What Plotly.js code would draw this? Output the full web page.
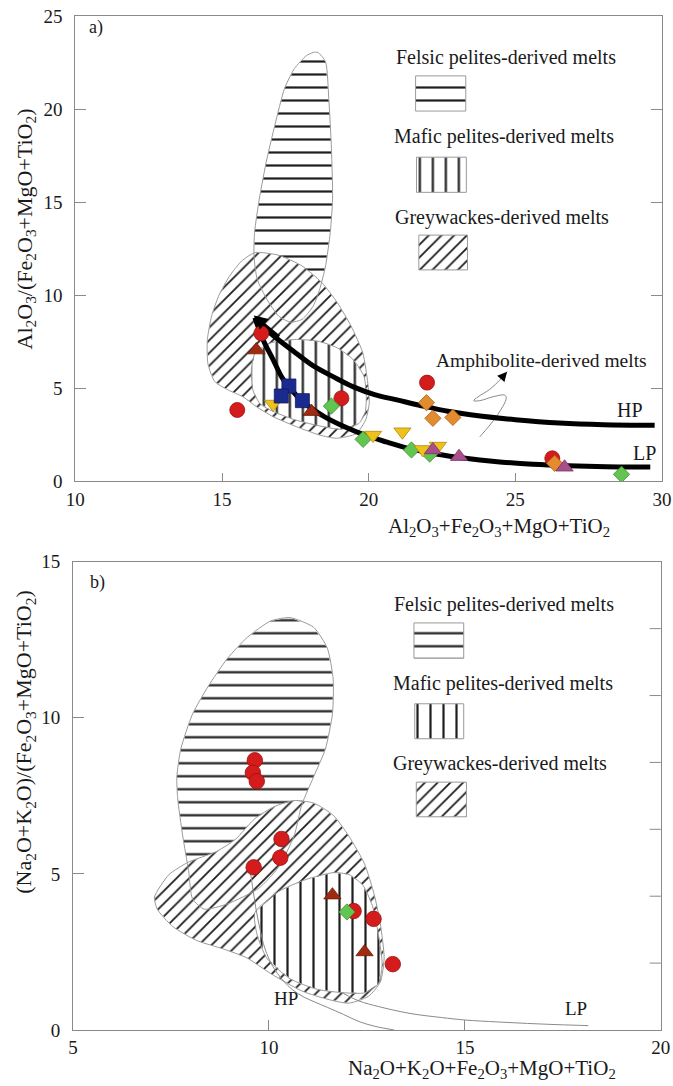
<!DOCTYPE html>
<html><head><meta charset="utf-8">
<script src="https://cdn.plot.ly/plotly-3.0.1.min.js"></script>
<style>html,body{margin:0;padding:0;background:#fff}</style>
</head><body><div id="chart" style="width:673px;height:1086px"></div>
<script>
// ---------- Panel a) data ----------
const felsicA_x = [18.27,18.53,18.64,18.73,18.77,18.69,18.53,18.33,18.11,17.73,17.33,16.93,16.53,16.2,16.09,16.11,16.27,16.53,16.8,17.13,17.47,17.87,18.11];
const felsicA_y = [23.04,22.54,20.56,17.86,15.16,13.36,11.57,10.31,9.41,8.69,8.54,8.87,9.77,10.85,12.1,13.36,15.16,17.32,19.12,21.1,22.18,22.86,23.04];
const greyA_x = [16.13,16.93,17.73,18.4,18.93,19.4,19.8,19.97,20.02,19.9,19.58,18.9,18.33,17.54,16.74,16.17,15.71,15.2,14.75,14.52,14.5,14.65,14.9,15.25,15.67];
const greyA_y = [12.28,12.14,11.56,10.67,9.59,8.33,6.89,5.27,4.19,3.3,2.55,2.3,2.47,2.92,3.46,4.0,4.53,4.9,5.35,6.3,7.6,8.9,10.0,11.0,11.83];
const maficA_x = [16.0,16.13,16.67,17.47,18.27,18.93,19.47,19.84,19.92,19.88,19.67,19.07,18.27,17.47,16.73,16.3,16.05];
const maficA_y = [5.99,6.89,7.43,7.61,7.52,7.16,6.53,5.63,4.55,3.7,3.1,2.78,2.98,3.3,3.75,4.15,4.9];
const hpA_x = [16.12,16.5,17.0,17.5,18.1,18.8,19.5,20.2,21.0,21.8,22.7,23.8,25.0,26.5,28.0,29.75];
const hpA_y = [8.78,8.15,7.5,6.9,6.2,5.6,5.05,4.65,4.35,4.05,3.75,3.5,3.3,3.12,3.03,3.0];
const lpA_x = [16.12,16.4,16.75,17.07,17.4,17.73,18.1,18.5,19.2,19.9,20.6,21.5,22.3,23.3,24.3,25.6,26.8,28.1,29.6];
const lpA_y = [8.78,7.6,6.5,5.5,4.85,4.3,3.85,3.45,2.9,2.45,2.1,1.7,1.45,1.22,1.05,0.9,0.82,0.77,0.75];
const ampA_x = [23.79,24.35,24.69,24.64,24.24,23.79,23.58,23.73,24.13,24.47,24.72];
const ampA_y = [2.38,3.46,4.45,4.62,4.53,4.32,4.32,4.53,4.93,5.43,5.88];

const redA_x = [16.34,15.52,19.07,21.99,26.26];
const redA_y = [7.94,3.82,4.45,5.29,1.22];
const triRedA_x = [16.17,18.05];
const triRedA_y = [7.04,3.73];
const yellowA_x = [16.74,20.15,21.15,21.85,22.36];
const yellowA_y = [4.14,2.47,2.65,1.70,1.88];
const blueA_x = [17.28,17.02,17.74];
const blueA_y = [5.11,4.57,4.32];
const greenA_x = [18.73,19.81,21.46,22.08,28.62];
const greenA_y = [4.03,2.24,1.67,1.45,0.36];
const orangeA_x = [21.97,22.19,22.87,26.34];
const orangeA_y = [4.21,3.37,3.42,0.95];
const purpleA_x = [22.19,23.08,26.68];
const purpleA_y = [1.67,1.31,0.74];

// ---------- Panel b) data ----------
const felsicB_x = [10.54,11.14,11.49,11.64,11.62,11.44,11.14,10.84,10.64,10.24,9.74,8.94,8.35,8.05,7.95,7.8,7.67,7.65,7.75,8.05,8.45,8.94,9.44,10.04];
const felsicB_y = [13.21,12.9,12.23,11.23,10.12,9.0,8.11,7.22,6.21,5.21,4.54,4.04,3.87,4.2,5.1,6.21,7.44,8.11,9.0,10.12,11.01,11.9,12.57,13.1];
const greyB_x = [7.08,7.45,7.95,8.65,9.14,9.64,10.14,10.64,11.14,11.64,12.04,12.44,12.69,12.84,12.94,12.84,12.54,12.04,11.54,10.84,10.04,9.44,8.85,8.15,7.55,7.15];
const greyB_y = [4.26,4.98,5.38,5.71,6.1,6.77,7.16,7.35,7.27,6.88,6.21,5.32,4.32,3.42,2.31,1.53,1.08,0.86,0.97,1.25,1.81,2.31,2.59,2.87,3.31,3.87];
const maficB_x = [9.64,10.24,10.94,11.64,12.04,12.39,12.64,12.79,12.89,12.79,12.44,11.94,11.24,10.54,9.94,9.69];
const maficB_y = [3.76,4.43,4.82,5.04,4.98,4.65,3.98,3.09,2.09,1.47,1.19,1.19,1.3,1.64,2.31,3.09];
const hpB_x = [9.5,9.58,9.66,9.76,9.9,10.1,10.35,10.61,10.9,11.2,11.5,11.9,12.3,12.7,13.2];
const hpB_y = [5.3,4.6,3.95,3.3,2.6,2.03,1.6,1.28,1.05,0.88,0.72,0.5,0.27,0.12,0];
const lpB_x = [11.9,12.3,12.8,13.6,14.4,15.0,15.8,16.6,17.4,18.15];
const lpB_y = [1.17,0.93,0.75,0.53,0.4,0.32,0.26,0.21,0.17,0.14];

const redB_x = [9.64,9.59,9.69,10.32,10.29,9.61,12.16,12.67,13.16];
const redB_y = [8.64,8.24,7.97,6.12,5.52,5.21,3.81,3.56,2.11];
const triRedB_x = [11.62,12.44];
const triRedB_y = [4.32,2.5];
const greenB_x = [11.99];
const greenB_y = [3.78];

// ticks
const xTicksA = [10,15,20,25,30];
const yTicksA = [0,5,10,15,20,25];
const xTicksB = [5,10,15,20];
const yTicksB = [0,5,10,15];
const rightTicksB = [2.143,4.286,6.429,8.571,10.714,12.857];

const legendLabels = ['Felsic pelites-derived melts','Mafic pelites-derived melts','Greywackes-derived melts'];

// ---------- styling ----------
const FONT = '"Liberation Serif", "Times New Roman", "DejaVu Serif", serif';
const TXT = '#1a1a1a';
const AX = '#8a8a8a';
const PAT = {
  felsic: {shape:'-', size:13, solidity:0.17, fgcolor:'#1e1e1e', bgcolor:'white', fillmode:'replace'},
  mafic: {shape:'|', size:13, solidity:0.17, fgcolor:'#1e1e1e', bgcolor:'white', fillmode:'replace'},
  grey: {shape:'/', size:9, solidity:0.2, fgcolor:'#1e1e1e', bgcolor:'white', fillmode:'replace'}
};

function region(x, y, pat, xa, ya) {
  return {x, y, xaxis:xa, yaxis:ya, mode:'lines', fill:'toself', fillcolor:'white',
    fillpattern: pat, line:{width:0, color:'rgba(0,0,0,0)'}, hoverinfo:'skip'};
}
function outline(x, y, xa, ya) {
  return {x:x.concat([x[0]]), y:y.concat([y[0]]), xaxis:xa, yaxis:ya, mode:'lines',
    line:{width:1, color:'#9a9a9a', shape:'spline', smoothing:0.6}, hoverinfo:'skip'};
}
function swatch(x0, x1, y0, y1, pat, xa, ya) {
  return {x:[x0,x1,x1,x0,x0], y:[y0,y0,y1,y1,y0], xaxis:xa, yaxis:ya, mode:'lines', fill:'toself',
    fillcolor:'white', fillpattern:pat, line:{width:1, color:'#9a9a9a'}, hoverinfo:'skip'};
}
function pts(x, y, sym, size, color, lc, xa, ya) {
  return {x, y, xaxis:xa, yaxis:ya, mode:'markers', hoverinfo:'skip',
    marker:{symbol:sym, size, color, line:{width:0.8, color:lc}}};
}

const traces = [
  region(felsicA_x, felsicA_y, PAT.felsic, 'x', 'y'),
  region(greyA_x, greyA_y, PAT.grey, 'x', 'y'),
  region(maficA_x, maficA_y, PAT.mafic, 'x', 'y'),
  outline(felsicA_x, felsicA_y, 'x', 'y'),
  outline(greyA_x, greyA_y, 'x', 'y'),
  outline(maficA_x, maficA_y, 'x', 'y'),
  swatch(21.6, 23.31, 19.89, 21.78, PAT.felsic, 'x', 'y'),
  swatch(21.63, 23.33, 15.52, 17.41, PAT.mafic, 'x', 'y'),
  swatch(21.71, 23.37, 11.35, 13.22, PAT.grey, 'x', 'y'),
  {x:ampA_x, y:ampA_y, mode:'lines', line:{width:1, color:'#8a8a8a', shape:'spline'}, hoverinfo:'skip'},
  {x:hpA_x, y:hpA_y, mode:'lines', line:{width:5, color:'#000', shape:'spline'}, hoverinfo:'skip'},
  {x:lpA_x, y:lpA_y, mode:'lines', line:{width:5, color:'#000', shape:'spline'}, hoverinfo:'skip'},
  pts(redA_x, redA_y, 'circle', 15, '#D41C1C', '#9b1010', 'x', 'y'),
  pts(greenA_x, greenA_y, 'diamond', 12.5, '#62C451', '#3f8f33', 'x', 'y'),
  pts(yellowA_x, yellowA_y, 'triangle-down', 15, '#EEC21B', '#b08a10', 'x', 'y'),
  pts(orangeA_x, orangeA_y, 'diamond', 12.5, '#E28B2F', '#a8601a', 'x', 'y'),
  pts(triRedA_x, triRedA_y, 'triangle-up', 15, '#9E2A12', '#6e1a08', 'x', 'y'),
  pts(blueA_x, blueA_y, 'square', 14, '#1B2A8F', '#101a60', 'x', 'y'),
  pts(purpleA_x, purpleA_y, 'triangle-up', 15, '#A84F8E', '#7a3566', 'x', 'y'),

  region(felsicB_x, felsicB_y, PAT.felsic, 'x2', 'y2'),
  region(greyB_x, greyB_y, PAT.grey, 'x2', 'y2'),
  region(maficB_x, maficB_y, PAT.mafic, 'x2', 'y2'),
  outline(felsicB_x, felsicB_y, 'x2', 'y2'),
  outline(greyB_x, greyB_y, 'x2', 'y2'),
  outline(maficB_x, maficB_y, 'x2', 'y2'),
  swatch(13.7, 14.97, 11.91, 13.04, PAT.felsic, 'x2', 'y2'),
  swatch(13.72, 14.97, 9.33, 10.45, PAT.mafic, 'x2', 'y2'),
  swatch(13.76, 15.04, 6.83, 7.94, PAT.grey, 'x2', 'y2'),
  {x:hpB_x, y:hpB_y, xaxis:'x2', yaxis:'y2', mode:'lines', line:{width:1, color:'#8a8a8a', shape:'spline'}, hoverinfo:'skip'},
  {x:lpB_x, y:lpB_y, xaxis:'x2', yaxis:'y2', mode:'lines', line:{width:1, color:'#8a8a8a', shape:'spline'}, hoverinfo:'skip'},
  pts(redB_x, redB_y, 'circle', 15.5, '#D41C1C', '#9b1010', 'x2', 'y2'),
  pts(triRedB_x, triRedB_y, 'triangle-up', 15, '#9E2A12', '#6e1a08', 'x2', 'y2'),
  pts(greenB_x, greenB_y, 'diamond', 12.5, '#62C451', '#3f8f33', 'x2', 'y2')
];

function axis(extra) {
  return Object.assign({showgrid:false, zeroline:false, showline:true, linecolor:AX, linewidth:1,
    ticks:'inside', tickcolor:AX, tickwidth:1, fixedrange:true,
    tickfont:{family:FONT, size:19, color:TXT}}, extra);
}

const ann = [];
function txt(text, x, y, xref, yref, size, extra) {
  ann.push(Object.assign({text, x, y, xref, yref, showarrow:false,
    font:{family:FONT, size, color:TXT}, xanchor:'center', yanchor:'middle'}, extra||{}));
}
// Panel a
txt('a)', 10.72, 24.4, 'x', 'y', 18);
txt(legendLabels[0], 24.67, 22.75, 'x', 'y', 20);
txt(legendLabels[1], 24.63, 18.54, 'x', 'y', 20);
txt(legendLabels[2], 24.56, 14.17, 'x', 'y', 20);
txt('Amphibolite-derived melts', 25.89, 6.5, 'x', 'y', 19.5);
txt('HP', 28.9, 3.82, 'x', 'y', 20);
txt('LP', 29.41, 1.49, 'x', 'y', 20);
// Panel b
txt('b)', 5.62, 14.35, 'x2', 'y2', 18);
txt(legendLabels[0], 15.99, 13.62, 'x2', 'y2', 20);
txt(legendLabels[1], 15.96, 11.11, 'x2', 'y2', 20);
txt(legendLabels[2], 15.9, 8.55, 'x2', 'y2', 20);
txt('HP', 10.44, 1.02, 'x2', 'y2', 19);
txt('LP', 17.84, 0.7, 'x2', 'y2', 19);
// axis titles
txt('Al<sub>2</sub>O<sub>3</sub>+Fe<sub>2</sub>O<sub>3</sub>+MgO+TiO<sub>2</sub>', 0.7233, 0.496, 'paper', 'paper', 21);
txt('Na<sub>2</sub>O+K<sub>2</sub>O+Fe<sub>2</sub>O<sub>3</sub>+MgO+TiO<sub>2</sub>', 0.694, -0.038, 'paper', 'paper', 21);
txt('Al<sub>2</sub>O<sub>3</sub>/(Fe<sub>2</sub>O<sub>3</sub>+MgO+TiO<sub>2</sub>)', -0.0806, 0.79, 'paper', 'paper', 22, {textangle:-90});
txt('(Na<sub>2</sub>O+K<sub>2</sub>O)/(Fe<sub>2</sub>O<sub>3</sub>+MgO+TiO<sub>2</sub>)', -0.0815, 0.2843, 'paper', 'paper', 22, {textangle:-90});
// arrows
ann.push({x:hpA_x[0]-0.04, y:hpA_y[0]+0.12, ax:hpA_x[2], ay:hpA_y[2]+0.2, xref:'x', yref:'y', axref:'x', ayref:'y',
  showarrow:true, arrowhead:2, arrowsize:1.1, arrowwidth:2.5, arrowcolor:'#000', text:''});
const nA = ampA_x.length;
ann.push({x:ampA_x[nA-1], y:ampA_y[nA-1], ax:ampA_x[nA-2], ay:ampA_y[nA-2], xref:'x', yref:'y', axref:'x', ayref:'y',
  showarrow:true, arrowhead:2, arrowsize:1.6, arrowwidth:1.2, arrowcolor:'#000', text:''});

const shapes = rightTicksB.map(v => ({type:'line', xref:'x2 domain', yref:'y2', x0:0.981, x1:1, y0:v, y1:v,
  line:{color:AX, width:1}}));

const layout = {
  width:673, height:1086, margin:{l:73, r:11, t:16, b:56},
  paper_bgcolor:'white', plot_bgcolor:'white', showlegend:false,
  font:{family:FONT, color:TXT},
  xaxis: axis({domain:[0.004,1], anchor:'y', range:[10,30], tickvals:xTicksA, ticklen:8, mirror:true, ticklabelstandoff:1}),
  yaxis: axis({domain:[0.5414,1], anchor:'x', range:[0,25], tickvals:yTicksA, ticklen:11, mirror:'ticks', ticklabelstandoff:8}),
  xaxis2: axis({domain:[0,0.998], anchor:'y2', range:[5,20], tickvals:xTicksB, ticklen:10, mirror:true, ticklabelstandoff:0}),
  yaxis2: axis({domain:[0,0.4618], anchor:'x2', range:[0,15], tickvals:yTicksB, ticklen:11, mirror:true, ticklabelstandoff:8}),
  annotations: ann, shapes
};

Plotly.newPlot('chart', traces, layout, {staticPlot:true, displayModeBar:false});
</script></body></html>
